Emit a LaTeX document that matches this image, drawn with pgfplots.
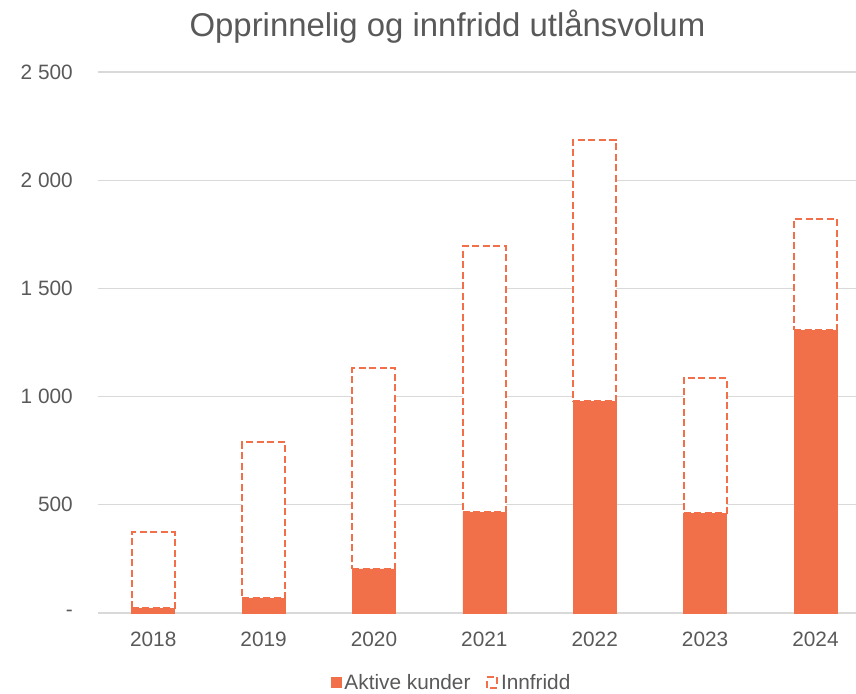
\documentclass[border=0pt]{standalone}
\usepackage{fontspec}
\setmainfont{Liberation Sans}
\usepackage{pgfplots}
\usepackage{pgfplotstable}
\pgfplotsset{compat=1.18}
\definecolor{oransje}{RGB}{241,112,74}
\definecolor{tekst}{RGB}{89,89,89}
\definecolor{rutenett}{RGB}{217,217,217}

% aar: 0=2018 ... 6=2024
\pgfplotstableread{
x aktive innfridd
0 21 352
1 69 721
2 204 926
3 465 1231
4 978 1209
5 460 625
6 1307 514
}\utlan

\begin{document}
\begin{tikzpicture}
\path[use as bounding box] (-98pt,-80pt) rectangle (758pt,613pt);
\begin{axis}[
  scale only axis, width=758pt, height=541pt,
  ybar stacked, bar width=43pt,
  xmin=-0.5, xmax=6.367, ymin=0, ymax=2500,
  xtick={0,...,6}, xticklabels={2018,2019,2020,2021,2022,2023,2024},
  ytick={0,500,...,2500}, yticklabels={-,500,1 000,1 500,2 000,2 500},
  axis line style={draw=none}, major tick length=0pt,
  ymajorgrids, grid style={rutenett, line width=1.3pt},
  tick label style={font=\fontsize{20.8}{25}\selectfont, text=tekst, inner sep=0pt},
  xticklabel style={anchor=north, yshift=-19pt},
  yticklabel style={anchor=east, xshift=-25pt},
  title={Opprinnelig og innfridd utlånsvolum},
  title style={at={(0.461,1)}, anchor=base, yshift=29pt, inner sep=0pt,
    font=\fontsize{32.9}{40}\selectfont, text=tekst},
  legend style={at={(0.467,-0.128)}, anchor=center, draw=none, fill=none,
    legend columns=-1, font=\fontsize{20.8}{25}\selectfont, text=tekst,
    nodes={inner sep=3pt}, cells={anchor=west},
    /tikz/every even column/.append style={column sep=12pt}},
  legend image code/.code={\draw[#1] (-2.5pt,-5.25pt) rectangle (8pt,5.25pt);},
]
\addplot[fill=oransje, draw=oransje, line width=0.4pt] table[x=x, y=aktive] {\utlan};
\addplot[fill=white, draw=oransje, line width=2pt, dash pattern=on 7pt off 3.5pt] table[x=x, y=innfridd] {\utlan};
\legend{Aktive kunder, Innfridd}
\end{axis}
\end{tikzpicture}
\end{document}
